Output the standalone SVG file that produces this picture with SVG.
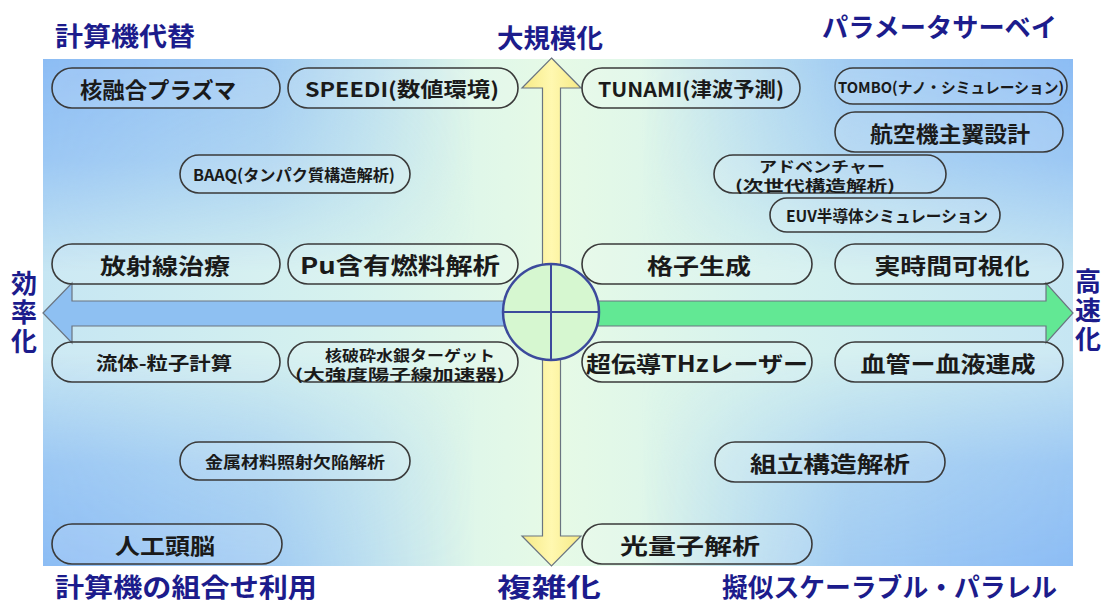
<svg xmlns="http://www.w3.org/2000/svg" width="1105" height="605" viewBox="0 0 1105 605">
<defs>
<linearGradient id="base" x1="0" y1="0" x2="1" y2="0">
<stop offset="0" stop-color="#c6e6f3"/>
<stop offset="0.3" stop-color="#d6f2ee"/>
<stop offset="0.5" stop-color="#e6fae6"/>
<stop offset="0.7" stop-color="#d6f2ee"/>
<stop offset="1" stop-color="#c6e6f3"/>
</linearGradient>
<linearGradient id="gh" x1="0" y1="0" x2="1" y2="0">
<stop offset="0" stop-color="#fff"/>
<stop offset="0.22" stop-color="#b0b0b0"/>
<stop offset="0.42" stop-color="#000"/>
<stop offset="0.58" stop-color="#000"/>
<stop offset="0.78" stop-color="#b0b0b0"/>
<stop offset="1" stop-color="#fff"/>
</linearGradient>
<linearGradient id="gv" x1="0" y1="0" x2="0" y2="1">
<stop offset="0" stop-color="#fff"/>
<stop offset="0.2" stop-color="#b8b8b8"/>
<stop offset="0.42" stop-color="#000"/>
<stop offset="0.58" stop-color="#000"/>
<stop offset="0.8" stop-color="#b8b8b8"/>
<stop offset="1" stop-color="#fff"/>
</linearGradient>
<mask id="mh" maskUnits="userSpaceOnUse" x="43" y="59" width="1030" height="507"><rect x="43" y="59" width="1030" height="507" fill="url(#gh)"/></mask>
<mask id="mv" maskUnits="userSpaceOnUse" x="43" y="59" width="1030" height="507"><rect x="43" y="59" width="1030" height="507" fill="url(#gv)"/></mask>
<linearGradient id="yel" x1="0" y1="0" x2="1" y2="0">
<stop offset="0" stop-color="#f6ea86"/>
<stop offset="0.5" stop-color="#fff8b0"/>
<stop offset="1" stop-color="#f6ea86"/>
</linearGradient>
</defs>
<style>
.t{font-family:"Noto Sans CJK JP","Liberation Sans",sans-serif;font-weight:bold;fill:#1c1c8c;font-size:26px}
.v{font-family:"Noto Sans CJK JP","Liberation Sans",sans-serif;font-weight:bold;fill:#1c1c8c;font-size:26px;writing-mode:vertical-rl;letter-spacing:3px}
.n{font-family:"Noto Sans CJK JP","Liberation Sans",sans-serif;font-weight:bold;fill:#1a1a1a;dominant-baseline:central;text-anchor:middle}
.p{fill:#ffffff;fill-opacity:0.12;stroke:#3a3a3a;stroke-width:1.6}
.ax{stroke:#6a7480;stroke-width:1.2}
</style>
<g id="panel">
<rect x="43" y="59" width="1030" height="507" fill="url(#base)"/>
<g mask="url(#mv)"><rect x="43" y="59" width="1030" height="507" fill="#8cbcf4" mask="url(#mh)"/></g>
</g>
<g id="titles">
<text class="t" x="55" y="46" textLength="140" lengthAdjust="spacingAndGlyphs">計算機代替</text>
<text class="t" x="497" y="48" textLength="106" lengthAdjust="spacingAndGlyphs">大規模化</text>
<text class="t" x="822" y="37" textLength="235" lengthAdjust="spacingAndGlyphs">パラメータサーベイ</text>
<text class="t" x="55" y="597" textLength="262" lengthAdjust="spacingAndGlyphs">計算機の組合せ利用</text>
<text class="t" x="497" y="597" textLength="104" lengthAdjust="spacingAndGlyphs">複雑化</text>
<text class="t" x="722" y="597" textLength="335" lengthAdjust="spacingAndGlyphs">擬似スケーラブル・パラレル</text>
<text class="v" x="24" y="270">効率化</text>
<text class="v" x="1088" y="268">高速化</text>
</g>
<g id="connectors">
<polygon class="ax" fill="url(#yel)" points="551.5,58 581,88 560.5,88 560.5,536 581,536 551.5,566 522,536 542.5,536 542.5,88 522,88"/>
<polygon class="ax" fill="#8ec0f2" points="43,313 72,283 72,301 515,301 515,326 72,326 72,343"/>
<polygon class="ax" fill="#62e894" points="588,301 1046,301 1046,283 1073,313 1046,343 1046,326 588,326"/>
<circle cx="551" cy="312" r="48" fill="#d6f7d0" stroke="#3c4a9c" stroke-width="2.5"/>
<line x1="551" y1="264" x2="551" y2="360" stroke="#3c4a9c" stroke-width="2"/>
<line x1="503" y1="312" x2="599" y2="312" stroke="#3c4a9c" stroke-width="2"/>
</g>
<g id="n1"><rect class="p" x="52" y="68" width="228" height="40" rx="20"/><text class="n" x="158" y="88" font-size="22" textLength="156" lengthAdjust="spacingAndGlyphs">核融合プラズマ</text></g>
<g id="n2"><rect class="p" x="288" y="68" width="230" height="40" rx="20"/><text class="n" x="402" y="88" font-size="20" textLength="194" lengthAdjust="spacingAndGlyphs">SPEEDI(数値環境)</text></g>
<g id="n3"><rect class="p" x="582" y="68" width="218" height="40" rx="20"/><text class="n" x="691" y="88" font-size="20" textLength="186" lengthAdjust="spacingAndGlyphs">TUNAMI(津波予測)</text></g>
<g id="n4"><rect class="p" x="835" y="68" width="232" height="36" rx="18"/><text class="n" x="951" y="86" font-size="15" textLength="226" lengthAdjust="spacingAndGlyphs">TOMBO(ナノ・シミュレーション)</text></g>
<g id="n5"><rect class="p" x="835" y="112" width="228" height="40" rx="20"/><text class="n" x="950" y="132" font-size="22" textLength="160" lengthAdjust="spacingAndGlyphs">航空機主翼設計</text></g>
<g id="n6"><rect class="p" x="180" y="155" width="230" height="38" rx="19"/><text class="n" x="294" y="174" font-size="16" textLength="202" lengthAdjust="spacingAndGlyphs">BAAQ(タンパク質構造解析)</text></g>
<g id="n7"><rect class="p" x="714" y="155" width="232" height="38" rx="19"/><text class="n" x="822" y="165" font-size="15" textLength="126" lengthAdjust="spacingAndGlyphs">アドベンチャー</text><text class="n" x="815" y="184" font-size="15" textLength="160" lengthAdjust="spacingAndGlyphs">(次世代構造解析)</text></g>
<g id="n8"><rect class="p" x="770" y="198" width="230" height="34" rx="17"/><text class="n" x="887" y="215" font-size="16" textLength="202" lengthAdjust="spacingAndGlyphs">EUV半導体シミュレーション</text></g>
<g id="n9"><rect class="p" x="52" y="244" width="228" height="40" rx="20"/><text class="n" x="165" y="264" font-size="22" textLength="130" lengthAdjust="spacingAndGlyphs">放射線治療</text></g>
<g id="n10"><rect class="p" x="288" y="244" width="230" height="40" rx="20"/><text class="n" x="400" y="264" font-size="23" textLength="200" lengthAdjust="spacingAndGlyphs">Pu含有燃料解析</text></g>
<g id="n11"><rect class="p" x="582" y="244" width="230" height="40" rx="20"/><text class="n" x="699" y="264" font-size="22" textLength="104" lengthAdjust="spacingAndGlyphs">格子生成</text></g>
<g id="n12"><rect class="p" x="835" y="244" width="228" height="40" rx="20"/><text class="n" x="952" y="264" font-size="22" textLength="155" lengthAdjust="spacingAndGlyphs">実時間可視化</text></g>
<g id="n13"><rect class="p" x="52" y="342" width="228" height="40" rx="20"/><text class="n" x="164" y="362" font-size="18" textLength="136" lengthAdjust="spacingAndGlyphs">流体-粒子計算</text></g>
<g id="n14"><rect class="p" x="288" y="342" width="230" height="40" rx="20"/><text class="n" x="410" y="354" font-size="15" textLength="170" lengthAdjust="spacingAndGlyphs">核破砕水銀ターゲット</text><text class="n" x="400" y="373" font-size="15" textLength="210" lengthAdjust="spacingAndGlyphs">(大強度陽子線加速器)</text></g>
<g id="n15"><rect class="p" x="582" y="342" width="230" height="40" rx="20"/><text class="n" x="697" y="362" font-size="22" textLength="222" lengthAdjust="spacingAndGlyphs">超伝導THzレーザー</text></g>
<g id="n16"><rect class="p" x="835" y="342" width="228" height="40" rx="20"/><text class="n" x="948" y="362" font-size="22" textLength="175" lengthAdjust="spacingAndGlyphs">血管ー血液連成</text></g>
<g id="n17"><rect class="p" x="180" y="442" width="230" height="38" rx="19"/><text class="n" x="295" y="461" font-size="16" textLength="180" lengthAdjust="spacingAndGlyphs">金属材料照射欠陥解析</text></g>
<g id="n18"><rect class="p" x="715" y="442" width="230" height="40" rx="20"/><text class="n" x="830" y="462" font-size="22" textLength="160" lengthAdjust="spacingAndGlyphs">組立構造解析</text></g>
<g id="n19"><rect class="p" x="52" y="524" width="230" height="40" rx="20"/><text class="n" x="165" y="544" font-size="22" textLength="100" lengthAdjust="spacingAndGlyphs">人工頭脳</text></g>
<g id="n20"><rect class="p" x="582" y="524" width="230" height="40" rx="20"/><text class="n" x="690" y="544" font-size="22" textLength="140" lengthAdjust="spacingAndGlyphs">光量子解析</text></g>
</svg>
